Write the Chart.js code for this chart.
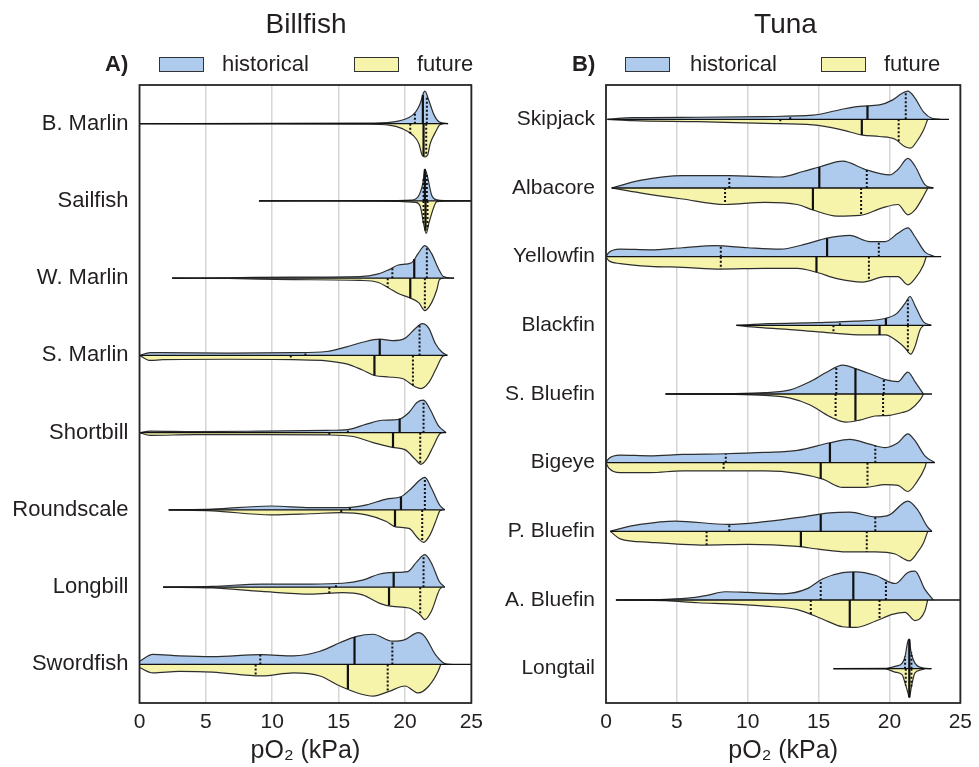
<!DOCTYPE html>
<html><head><meta charset="utf-8">
<script src="https://cdn.jsdelivr.net/npm/chart.js@4.4.1/dist/chart.umd.min.js"></script>
<style>
html,body{margin:0;padding:0;background:#fff;}
body{width:979px;height:767px;position:relative;overflow:hidden;font-family:"Liberation Sans",Arial,sans-serif;color:#231f20;}
.cw{position:absolute;top:0;height:767px;}
.t{position:absolute;white-space:nowrap;line-height:1;}
.box{position:absolute;border:1.5px solid #333;box-sizing:border-box;width:45px;height:15px;top:57px;}
</style></head><body>
<div class="cw" style="left:0;width:490px"><canvas id="c1"></canvas></div>
<div class="cw" style="left:490px;width:489px"><canvas id="c2"></canvas></div>
<div class="t" style="left:306px;top:10px;font-size:28px;transform:translateX(-50%)">Billfish</div>
<div class="t" style="left:785.5px;top:10px;font-size:28px;transform:translateX(-50%)">Tuna</div>
<div class="t" style="left:105px;top:53px;font-size:22px;font-weight:bold">A)</div>
<div class="box" style="left:159px;background:#aecaec"></div>
<div class="t" style="left:222px;top:53px;font-size:22px">historical</div>
<div class="box" style="left:354px;background:#f6f3aa"></div>
<div class="t" style="left:417px;top:53px;font-size:22px">future</div>
<div class="t" style="left:572px;top:53px;font-size:22px;font-weight:bold">B)</div>
<div class="box" style="left:625px;background:#aecaec"></div>
<div class="t" style="left:690px;top:53px;font-size:22px">historical</div>
<div class="box" style="left:821px;background:#f6f3aa"></div>
<div class="t" style="left:884px;top:53px;font-size:22px">future</div>
<script>
// ---------- DATA ----------
const xTicks = [0, 5, 10, 15, 20, 25];
const xTitle = 'pO\u2082 (kPa)';

const billfishSpecies = ['B. Marlin','Sailfish','W. Marlin','S. Marlin','Shortbill','Roundscale','Longbill','Swordfish'];
// data range (min, max pO2) per species
const billfishRange = [[0,23.25],[9,25.5],[2.46,23.7],[0,23.2],[0,23.1],[2.2,23.0],[1.77,23.0],[0,25.5]];
// density knots [pO2, half-width in % of row]
const billfishHist = [
  [[0,0],[10,0.3],[17,0.6],[19,2],[20.3,8],[20.8,15],[21.15,26],[21.4,40],[21.5,42],[21.8,30],[22.2,11],[22.6,2],[23.25,0]],
  [[9,0],[18,0.3],[20.5,1],[21.0,5.6],[21.35,23],[21.5,41],[21.7,31],[22.0,8],[22.4,1.3],[23,0.2],[25.5,0]],
  [[2.46,0],[6.7,0.5],[11.6,1.3],[16.6,2],[18.0,5.6],[18.8,11],[19.5,17],[20.5,20],[21.0,32],[21.5,42],[22.0,32],[22.5,13],[22.9,2],[23.7,0]],
  [[0,0],[0.8,3.5],[1.75,3.5],[6.7,3],[11.6,3.5],[14.1,5],[15.6,11],[16.8,17],[18.1,21],[19.05,19],[20.0,22],[20.8,35],[21.3,41],[21.8,35],[22.3,15],[22.8,4],[23.2,0]],
  [[0,0],[0.8,2],[4.2,1.3],[9.2,2],[14.1,3],[15.7,4],[17.1,11],[18.3,16],[19.5,17],[20.3,26],[20.9,39],[21.4,42],[21.9,30],[22.5,9.5],[23.1,0]],
  [[2.2,0],[5.5,1],[9.9,5],[12.9,3],[15.6,3],[17.1,6.5],[18.6,14],[19.7,17],[20.5,28],[21.15,39],[21.5,42],[22.0,28],[22.6,6.5],[23.0,0]],
  [[1.77,0],[5.5,1],[9.2,4],[12.9,4],[15.3,5],[16.8,9],[18.1,17],[19.2,19],[20.2,20],[20.9,33],[21.5,42],[22.0,31],[22.6,7],[23.0,0]],
  [[0,4],[1.0,13],[3.0,11],[5.5,10],[9.2,12.5],[11.6,11],[13.6,17],[15.1,28],[16.3,36],[17.6,39],[19.05,30],[20.0,32],[21.0,41],[21.5,36],[22.3,12.5],[23.0,1],[23.5,0]]
];
const billfishFut = [
  [[0,0],[10,0.3],[17,0.8],[18.8,2],[19.8,6.5],[20.6,15],[21.05,26],[21.3,41],[21.5,43],[21.7,41],[21.9,26],[22.3,11],[22.6,2],[22.9,0]],
  [[9,0],[18,0.3],[20.8,2],[21.15,7],[21.4,29],[21.6,42],[21.8,29],[22.2,7],[22.4,1],[23,0.2],[25.5,0]],
  [[2.46,0],[6.7,0.5],[11.6,2],[16.6,3],[18.0,5.6],[18.8,13],[19.5,20],[20.3,25],[21.05,32],[21.5,42],[22.0,32],[22.4,15],[22.6,2],[22.9,0]],
  [[0,0],[0.8,6.5],[1.75,5.6],[6.7,5],[11.6,5.6],[14.1,7],[15.6,11],[16.8,19],[17.7,26],[18.8,28],[19.8,30],[20.8,41],[21.2,43],[21.8,35],[22.3,19],[22.8,2],[23.0,0]],
  [[0,0],[0.8,3.5],[4.2,2.6],[9.2,2.6],[14.1,3],[16.1,5],[17.6,13],[19.05,19],[20.0,22],[20.8,35],[21.2,41],[21.6,35],[22.1,19],[22.6,2],[22.8,0]],
  [[2.2,0],[5.5,1.3],[9.9,6.5],[12.9,5],[15.1,3.5],[17.1,6.5],[18.6,15],[19.3,22],[20.3,24],[21.0,37],[21.4,42],[21.9,32],[22.4,11],[22.6,2],[22.8,0]],
  [[1.77,0],[5.5,1],[9.2,5.6],[12.9,9],[15.3,7],[16.8,10],[18.1,21],[19.05,25],[20.3,27],[21.15,36],[21.5,42],[22.0,31],[22.6,3.5],[22.8,0]],
  [[0,4],[1.0,11],[3.0,9],[5.5,10],[9.2,15],[11.6,11],[13.6,15],[15.1,28],[16.6,38],[17.6,41],[18.8,35],[20.0,28],[21.0,37],[21.8,28],[22.5,9],[22.7,0]]
];
// [lower quartile, median, upper quartile]
const billfishHistQ = [[20.75,21.35,21.65],[21.4,21.5,21.65],[19.05,20.7,21.65],[12.5,18.1,21.1],[15.7,19.6,21.4],[15.85,19.7,21.5],[14.8,19.15,21.4],[9.1,16.2,19.05]];
const billfishFutQ  = [[20.4,21.4,21.6],[21.4,21.55,21.7],[18.7,20.4,21.5],[11.4,17.7,20.6],[14.3,19.1,21.15],[15.2,19.25,21.3],[14.3,18.8,21.15],[8.75,15.7,18.7]];

const tunaSpecies = ['Skipjack','Albacore','Yellowfin','Blackfin','S. Bluefin','Bigeye','P. Bluefin','A. Bluefin','Longtail'];
const tunaRange = [[0.1,24.2],[0.4,23.1],[0,23.65],[9.2,22.95],[4.2,23.0],[0,23.2],[0.3,23.0],[0.7,25.5],[16.05,22.96]];
const tunaHist = [
  [[0.1,0],[1.9,2.4],[6.5,3],[11.2,4],[14.6,6],[16.5,14],[17.9,19],[19.3,21],[20.2,28],[20.9,38],[21.3,41],[21.8,31],[22.4,11],[23.0,1.5],[23.6,0]],
  [[0.4,0],[2.4,11],[5.4,18],[8.6,18],[12.3,16],[13.9,24],[15.1,31],[16.7,39],[18.3,27],[20.0,19],[20.6,27],[21.3,43],[21.8,32],[22.5,5],[23.1,0]],
  [[0,0],[0.2,6],[1.0,11],[3.1,10],[5.4,13],[7.7,16],[10.0,13],[12.3,11],[14.2,19],[15.6,27],[17.2,31],[18.6,22],[19.7,22],[20.6,34],[21.3,42],[21.8,29],[22.5,7],[23.2,0]],
  [[9.2,0],[11.4,2.4],[14.9,4],[17.6,6],[19.7,10],[20.5,17],[21.1,32],[21.45,42],[21.8,29],[22.4,5],[22.95,0]],
  [[4.2,0],[8.8,0.5],[11.2,2],[13.0,6],[14.4,18],[15.6,32],[16.7,42],[17.6,37],[18.8,28],[19.7,21],[20.6,18],[21.3,32],[21.8,18],[22.4,0]],
  [[0,0],[0.2,6],[1.0,11],[3.1,10],[5.4,12],[8.4,13],[11.2,15],[13.5,18],[15.8,29],[17.2,34],[18.6,27],[19.7,22],[20.6,29],[21.3,42],[21.8,32],[22.5,10],[23.2,0]],
  [[0.3,0],[1.0,4],[2.4,10],[4.9,15],[8.6,10],[11.2,14],[13.9,21],[15.8,27],[17.2,28],[19.0,21],[20.0,24],[21.3,44],[22.0,31],[22.7,6],[23.0,0]],
  [[0.7,0],[4.2,1],[6.1,3.4],[7.2,7],[8.4,12],[10.0,11],[12.5,9],[14.2,16.5],[15.3,31],[16.7,40],[17.6,41],[19.0,36],[20.4,24],[21.3,40],[21.8,42],[22.5,15.5],[23.1,0]],
  [[16.05,0],[19.7,0.3],[20.4,3.4],[20.9,8],[21.1,18],[21.3,40],[21.4,43],[21.5,27],[21.8,8],[22.4,1],[22.96,0]]
];
const tunaFut = [
  [[0.1,0],[1.9,2],[6.5,3.4],[11.2,6],[14.6,8],[16.5,14.5],[18.1,23],[19.3,25],[20.4,29],[21.1,40],[21.5,42],[21.9,33],[22.4,16],[22.7,0]],
  [[0.4,0],[2.4,7],[5.4,16],[8.4,24],[11.2,21],[13.5,24],[14.6,32],[16.3,41],[17.9,40],[19.5,29],[20.6,24],[21.3,39],[21.8,32],[22.4,12],[22.7,0]],
  [[0,0],[0.2,6],[1.0,10],[3.1,14],[5.4,15.5],[8.1,18],[11.2,17],[13.5,17],[14.9,23],[16.3,32],[18.1,37],[19.7,29],[20.6,29],[21.3,41],[21.8,32],[22.4,12],[22.6,0]],
  [[9.2,0],[10.7,3],[13.5,7],[15.8,11],[18.1,14],[19.7,14],[20.6,24],[21.1,33],[21.5,42],[21.8,31],[22.15,7],[22.4,0]],
  [[4.2,0],[8.8,0.5],[11.2,2],[13.0,6],[14.4,16],[15.8,33],[16.95,41],[17.9,38],[19.0,32],[20.0,31],[20.9,27],[21.45,23],[22.15,9],[22.4,0]],
  [[0,0],[0.2,8],[1.0,14.5],[3.1,14.5],[5.4,12],[8.4,12],[11.2,12],[13.5,15.5],[15.3,24],[16.7,36],[18.3,36],[19.7,32],[20.6,33],[21.3,42],[21.9,29],[22.5,7],[22.6,0]],
  [[0.3,0],[1.0,11],[3.1,16],[5.4,19],[7.0,20],[10.0,19],[13.5,22],[15.0,26],[17.0,30],[19.0,30],[20.4,33],[21.4,43],[22.0,30],[22.4,17],[22.7,0]],
  [[0.7,0],[4.2,1],[6.5,4],[8.85,6],[11.2,9],[13.5,14],[15.3,28],[16.7,39],[17.6,40],[19.0,31],[20.2,21],[21.1,18],[21.8,30],[22.5,16],[22.7,0]],
  [[16.05,0],[19.7,0.3],[20.4,5],[20.9,9],[21.1,21],[21.3,35],[21.4,42],[21.55,26],[21.8,6],[22.2,2],[22.5,0]]
];
const tunaHistQ = [[13.0,18.45,21.15],[8.7,15.05,18.4],[8.1,15.6,19.25],[16.5,19.75,21.3],[16.25,17.6,19.6],[8.45,15.8,19.0],[8.7,15.15,19.0],[15.15,17.45,19.75],[21.1,21.4,21.55]];
const tunaFutQ  = [[12.3,18.05,20.65],[8.4,14.6,18.0],[8.1,14.85,18.55],[16.05,19.3,21.3],[16.2,17.6,19.55],[8.3,15.15,18.45],[7.1,13.75,18.4],[14.45,17.2,19.3],[21.15,21.4,21.55]];

// ---------- STYLE ----------
const BLUE = '#aecaec', YELLOW = '#f6f3aa', OUTLINE = '#2e2e2e', INK = '#231f20';
const FONT = '"Liberation Sans", Arial, sans-serif';

function densAt(knots, x) {
  for (let k = 0; k < knots.length - 1; k++) {
    const [x0, h0] = knots[k], [x1, h1] = knots[k + 1];
    if (x >= x0 && x <= x1) return h0 + (h1 - h0) * (x - x0) / (x1 - x0);
  }
  return 0;
}

const framePlugin = {
  id: 'frame',
  afterDatasetsDraw(chart) {
    const {ctx, chartArea: a} = chart;
    ctx.save();
    ctx.strokeStyle = '#262626';
    ctx.lineWidth = 1.8;
    ctx.strokeRect(a.left, a.top, a.right - a.left, a.bottom - a.top);
    ctx.restore();
  }
};

function makeChart(id, names, range, hist, fut, histQ, futQ, yWidth, padRight, labelSize) {
  const datasets = [];
  names.forEach((n, i) => {
    // quartile / median lines (drawn on top)
    [[hist, histQ, -1], [fut, futQ, 1]].forEach(([dens, qs, sgn]) => {
      qs[i].forEach((q, qi) => {
        const h = densAt(dens[i], q) / 100;
        datasets.push({
          data: [{x: q, y: i}, {x: q, y: i + sgn * h}],
          borderColor: '#111', borderWidth: qi === 1 ? 2.2 : 2,
          borderDash: qi === 1 ? [] : [2, 2],
          pointRadius: 0, fill: false, order: 1
        });
      });
    });
  });
  names.forEach((n, i) => {
    datasets.push({
      data: [{x: range[i][0], y: i}, {x: range[i][1], y: i}],
      borderColor: '#111', borderWidth: 1.4, pointRadius: 0, fill: false, order: 2
    });
  });
  names.forEach((n, i) => {
    datasets.push({
      label: n + ' historical',
      data: hist[i].map(([x, h]) => ({x, y: i - h / 100})),
      borderColor: OUTLINE, borderWidth: 1.2, backgroundColor: BLUE,
      fill: {value: i}, pointRadius: 0, cubicInterpolationMode: 'monotone', order: 3
    });
    datasets.push({
      label: n + ' future',
      data: fut[i].map(([x, h]) => ({x, y: i + h / 100})),
      borderColor: OUTLINE, borderWidth: 1.2, backgroundColor: YELLOW,
      fill: {value: i}, pointRadius: 0, cubicInterpolationMode: 'monotone', order: 3
    });
  });

  return new Chart(document.getElementById(id), {
    type: 'line',
    data: {datasets},
    plugins: [framePlugin],
    options: {
      responsive: true, maintainAspectRatio: false, animation: false,
      layout: {padding: {top: 85, right: padRight, bottom: 0, left: 0}},
      plugins: {legend: {display: false}, tooltip: {enabled: false}},
      scales: {
        x: {
          type: 'linear', min: 0, max: 25,
          afterBuildTicks: s => { s.ticks = xTicks.map(v => ({value: v})); },
          afterFit: s => { s.height = 64; },
          grid: {color: '#d6d6d6', lineWidth: 1.5, drawTicks: false},
          border: {display: false},
          ticks: {color: INK, font: {family: FONT, size: 21}, padding: 7},
          title: {display: true, text: xTitle, color: INK, font: {family: FONT, size: 25}, padding: {top: 0, bottom: 1}}
        },
        y: {
          type: 'linear', min: -0.5, max: names.length - 0.5, reverse: true,
          afterBuildTicks: s => { s.ticks = names.map((_, i) => ({value: i})); },
          afterFit: s => { s.width = yWidth; },
          grid: {display: false, drawTicks: false},
          border: {display: false},
          ticks: {color: INK, font: {family: FONT, size: labelSize}, padding: 11, autoSkip: false,
                  callback: v => names[v]}
        }
      }
    }
  });
}

makeChart('c1', billfishSpecies, billfishRange, billfishHist, billfishFut, billfishHistQ, billfishFutQ, 139.5, 13, 22);
makeChart('c2', tunaSpecies, tunaRange, tunaHist, tunaFut, tunaHistQ, tunaFutQ, 116, 13, 21);
</script>
</body></html>
